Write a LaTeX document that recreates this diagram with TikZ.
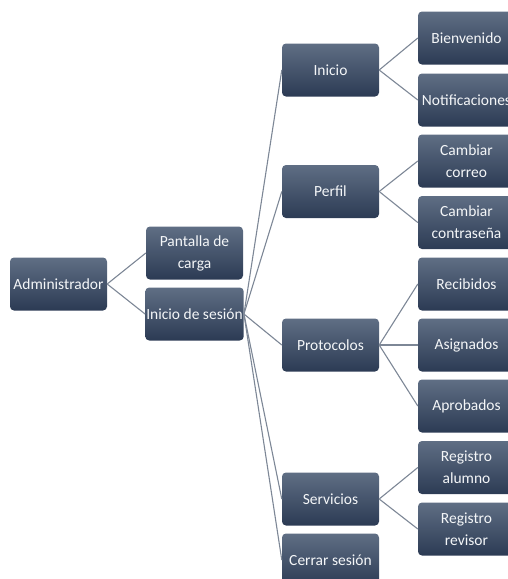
\documentclass[tikz,border=0pt]{standalone}
\usepackage{fontspec}
\setmainfont{Carlito}
\begin{document}
\begin{tikzpicture}[x=1pt,y=-1pt,
  box/.style={rectangle, rounded corners=4pt, minimum width=97pt, minimum height=53pt,
    top color=boxtop, bottom color=boxbot, draw=none, text=boxtext, align=center,
    font=\fontsize{15.5}{22}\selectfont, inner sep=1pt},
  link/.style={draw=linkc, line width=1.1pt}]
\definecolor{boxtop}{HTML}{5F6E84}
\definecolor{boxbot}{HTML}{2C3B54}
\definecolor{linkc}{HTML}{7D8796}
\definecolor{boxtext}{HTML}{F4F6F8}
\useasboundingbox (0,0) rectangle (508,579);
\clip (0,0) rectangle (508,579);
% nodes
\node[box] (adm) at (58.5,284) {Administrador};
\node[box] (pan) at (194.5,253) {Pantalla de\\carga};
\node[box] (ses) at (194.5,314) {Inicio de sesión};
\node[box] (ini) at (330.5,70) {Inicio};
\node[box] (per) at (330.5,191.5) {Perfil};
\node[box] (pro) at (330.5,345) {Protocolos};
\node[box] (ser) at (330.5,499) {Servicios};
\node[box] (cer) at (330.5,560) {Cerrar sesión};
\node[box] (bie) at (466.5,38) {Bienvenido};
\node[box] (not) at (466.5,100) {Notificaciones};
\node[box] (cco) at (466.5,161) {Cambiar\\correo};
\node[box] (cct) at (466.5,222.5) {Cambiar\\contraseña};
\node[box] (rec) at (466.5,284) {Recibidos};
\node[box] (asi) at (466.5,345) {Asignados};
\node[box] (apr) at (466.5,406) {Aprobados};
\node[box] (ral) at (466.5,467.5) {Registro\\alumno};
\node[box] (rrv) at (466.5,529) {Registro\\revisor};
% connectors
\foreach \a/\b in {adm/pan,adm/ses,ses/ini,ses/per,ses/pro,ses/ser,ses/cer,
  ini/bie,ini/not,per/cco,per/cct,pro/rec,pro/asi,pro/apr,ser/ral,ser/rrv}
  \draw[link] (\a.east) -- (\b.west);
\end{tikzpicture}
\end{document}
